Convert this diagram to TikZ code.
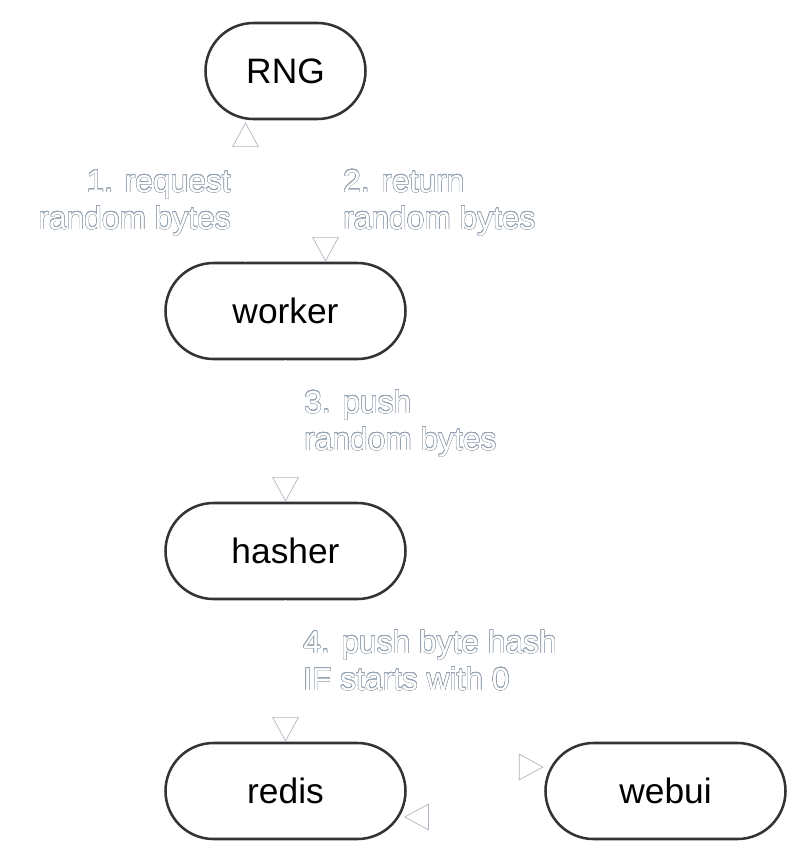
\documentclass[tikz,border=0pt]{standalone}
\usepackage{fontspec}
\setmainfont{Liberation Sans}
\usepackage[copies]{contour}
\contourlength{0.3pt}
\contournumber{24}
\usetikzlibrary{shapes.misc,arrows.meta,calc}
\definecolor{bordercol}{RGB}{51,51,51}
\definecolor{outlinecol}{RGB}{150,163,178}
\definecolor{arrcol}{RGB}{170,180,192}
\newcommand{\ol}[1]{\contour{outlinecol}{#1}}
\tikzset{
  svc/.style={rounded rectangle, draw=bordercol, line width=1.9pt, fill=white,
    minimum height=72pt, minimum width=180pt, inner sep=0pt,
    font=\fontsize{26.5}{30}\selectfont, text=black},
  svcsmall/.style={svc, minimum width=120pt},
  edge/.style={draw=white, line width=1.4pt,
    -{Triangle[open, length=18.5pt, width=20pt, color=arrcol, fill=white, line width=0.5pt]}},
  lbl/.style={inner sep=0pt, text=white, font=\fontsize{23.8}{27.75}\selectfont}
}
\begin{document}
\begin{tikzpicture}[x=0.75pt,y=-0.75pt]
\useasboundingbox[fill=white] (0,0) rectangle (805,865);
\node[svcsmall] (rng) at (285.5,71) {RNG};
\node[svc] (worker) at (285.5,311) {worker};
\node[svc] (hasher) at (285.5,551) {hasher};
\node[svc] (redis) at (285.5,791) {redis};
\node[svc] (webui) at (665.5,791) {webui};
% edges
\draw[edge] ([xshift=-30pt]worker.north) -- ([xshift=-30pt,yshift=-1.5pt]rng.south);
\draw[edge] ([xshift=30pt]rng.south) -- ([xshift=30pt]worker.north);
\draw[edge] (worker.south) -- (hasher.north);
\draw[edge] (hasher.south) -- (redis.north);
\draw[edge] ($(redis.east)+(-4.5pt,18pt)$) -- ([yshift=18pt,xshift=-0.5pt]webui.west);
\draw[edge] ($(webui.west)+(4pt,-19.5pt)$) -- ([yshift=-19.5pt,xshift=-2pt]redis.east);
% labels (anchor on the baseline of the last line)
\node[lbl, anchor=base east, align=right] (l1) at (231,229) {\ol{1. request}\\\ol{random bytes}};
\node[lbl, anchor=base west, align=left] (l2) at (343,229) {\ol{2. return}\\\ol{random bytes}};
\node[lbl, anchor=base west, align=left] (l3) at (304,450) {\ol{3. push}\\\ol{random bytes}};
\node[lbl, anchor=base west, align=left] (l4) at (303,690) {\ol{4. push byte hash}\\\ol{IF starts with 0}};
\end{tikzpicture}
\end{document}
